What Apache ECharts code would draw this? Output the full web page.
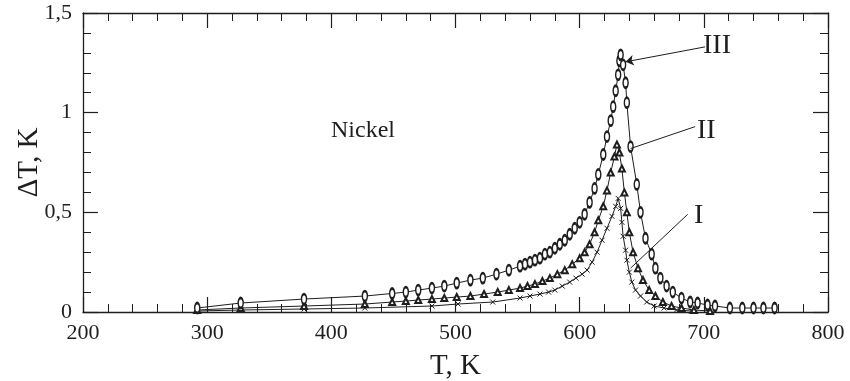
<!DOCTYPE html>
<html>
<head>
<meta charset="utf-8">
<script src="https://cdn.jsdelivr.net/npm/echarts@6/dist/echarts.min.js"></script>
<style>html,body{margin:0;padding:0;background:#fff;}#c{width:850px;height:381px;}</style>
</head>
<body>
<div id="c"></div>
<script>
// Curve III (ellipse markers)
const T_III  = [292,327,378,427,449,460,470,481,491,501,512,522,533,543,552,556,560,564,568,572,576,580,584,588,592,596,600,604,608,612,615,619,622,625,627,629,631,632,633,635,637,638,641,646,649,653,658,661,665,670,675,682,689,695,703,709,721,731,740,748,757];
const dT_III = [0.02,0.045,0.065,0.08,0.093,0.10,0.11,0.12,0.13,0.145,0.16,0.17,0.19,0.21,0.23,0.24,0.25,0.26,0.27,0.29,0.30,0.32,0.34,0.36,0.39,0.42,0.45,0.49,0.55,0.62,0.69,0.79,0.88,0.96,1.03,1.11,1.19,1.26,1.29,1.24,1.15,1.05,0.83,0.64,0.50,0.37,0.29,0.22,0.17,0.13,0.10,0.07,0.05,0.045,0.035,0.03,0.02,0.02,0.02,0.02,0.02];
// Curve II (triangle markers)
const T_II  = [292,327,378,427,449,460,470,481,491,501,512,523,534,543,552,558,564,570,576,582,588,594,600,604,608,612,615,619,622,625,628,630,632,634,636,638,640,643,647,651,656,661,667,674,682,692,705];
const dT_II = [0.01,0.02,0.03,0.04,0.05,0.055,0.06,0.065,0.07,0.075,0.08,0.09,0.10,0.11,0.12,0.13,0.14,0.155,0.17,0.19,0.21,0.24,0.27,0.30,0.34,0.40,0.46,0.53,0.61,0.70,0.78,0.84,0.80,0.72,0.60,0.50,0.40,0.30,0.22,0.16,0.11,0.08,0.05,0.03,0.02,0.01,0.005];
// Curve I (cross markers)
const T_I  = [292,327,378,427,481,502,530,552,560,568,575,580,586,592,597,602,606,610,614,618,622,626,629,631,633,634,635,637,638,640,642,645,649,654,660,668,678,690];
const dT_I = [0.005,0.01,0.015,0.02,0.03,0.04,0.05,0.07,0.08,0.09,0.10,0.11,0.13,0.15,0.17,0.19,0.21,0.25,0.30,0.36,0.42,0.48,0.53,0.57,0.52,0.45,0.38,0.31,0.26,0.20,0.15,0.11,0.08,0.05,0.03,0.02,0.01,0.005];
// Axis ticks
const xTicks = [200,300,400,500,600,700,800];
const yTicks = [0,0.5,1,1.5];
const yTickLabels = ['0','0,5','1','1,5'];
// Pointer lines (from label to curve)
const ptrIII = [[701,1.33],[637,1.255]];
const ptrII  = [[693,0.93],[641,0.82]];
const ptrI   = [[687,0.49],[641,0.22]];

const ink = '#1e1e1e';
const serif = '"Liberation Serif","DejaVu Serif",serif';
const zip = (a,b)=>a.map((v,i)=>[v,b[i]]);

const chart = echarts.init(document.getElementById('c'), null, {renderer:'canvas'});

function axisCommon(showLabel){
  return {
    axisLine:{show:true,onZero:false,lineStyle:{color:ink,width:1.3}},
    axisTick:{show:true,inside:true,length:15,lineStyle:{color:ink,width:1.2}},
    minorTick:{show:true,splitNumber:5,length:8,lineStyle:{color:ink,width:1}},
    splitLine:{show:false},
    axisLabel:{show:showLabel}
  };
}

const xBase = {type:'value',min:xTicks[0],max:xTicks[xTicks.length-1],interval:100};
const yBase = {type:'value',min:yTicks[0],max:yTicks[yTicks.length-1],interval:0.5};

function mkLine(p, arrow){
  return {
    silent:true,
    symbol: arrow ? ['none','arrow'] : ['none','none'],
    symbolSize: 8,
    label:{show:false},
    lineStyle:{color:ink,width:1,type:'solid'},
    emphasis:{disabled:true},
    data:[[{coord:p[0]},{coord:p[1]}]]
  };
}

const option = {
  animation:false,
  backgroundColor:'#fff',
  grid:{left:83,right:22,top:13,bottom:69,containLabel:false,outerBoundsMode:'none'},
  xAxis:[
    Object.assign({}, xBase, axisCommon(true), {
      position:'bottom',
      axisLabel:{show:true,color:ink,fontFamily:serif,fontSize:22,margin:10,
        formatter:v=>String(v)},
      name:'T, K',nameLocation:'middle',nameGap:40,
      nameTextStyle:{color:ink,fontFamily:serif,fontSize:29}
    }),
    Object.assign({}, xBase, axisCommon(false), {position:'top'})
  ],
  yAxis:[
    Object.assign({}, yBase, axisCommon(true), {
      position:'left',
      axisLabel:{show:true,color:ink,fontFamily:serif,fontSize:22,margin:11,
        formatter:v=>{const i=yTicks.indexOf(v);return i>=0?yTickLabels[i]:'';}},
      name:'ΔT, K',nameLocation:'middle',nameGap:39,nameRotate:90,nameMoveOverlap:false,
      nameTextStyle:{color:ink,fontFamily:serif,fontSize:29}
    }),
    Object.assign({}, yBase, axisCommon(false), {position:'right'})
  ],
  graphic:[
    {type:'text',left:331,top:119,style:{text:'Nickel',font:'24px '+serif,fill:ink}},
    {type:'text',left:703,top:32,style:{text:'III',font:'28px '+serif,fill:ink}},
    {type:'text',left:697,top:117,style:{text:'II',font:'28px '+serif,fill:ink}},
    {type:'text',left:694,top:202,style:{text:'I',font:'28px '+serif,fill:ink}}
  ],
  series:[
    {
      type:'line',name:'III',data:zip(T_III,dT_III),
      symbol:'emptyCircle',symbolSize:[5,10],showAllSymbol:true,
      lineStyle:{color:ink,width:1},
      itemStyle:{color:ink,borderColor:ink,borderWidth:1.2},
      markLine:mkLine(ptrIII,true),z:3
    },
    {
      type:'line',name:'II',data:zip(T_II,dT_II),
      symbol:'emptyTriangle',symbolSize:6,showAllSymbol:true,
      lineStyle:{color:ink,width:1},
      itemStyle:{color:ink,borderColor:ink,borderWidth:1},
      markLine:mkLine(ptrII,false),z:2
    },
    {
      type:'line',name:'I',data:zip(T_I,dT_I),
      symbol:'path://M0,0L10,10M10,0L0,10',symbolSize:5,showAllSymbol:true,
      lineStyle:{color:ink,width:1},
      itemStyle:{color:ink,borderColor:ink,borderWidth:1},
      markLine:mkLine(ptrI,false),z:1
    }
  ]
};
chart.setOption(option);
</script>
</body>
</html>
